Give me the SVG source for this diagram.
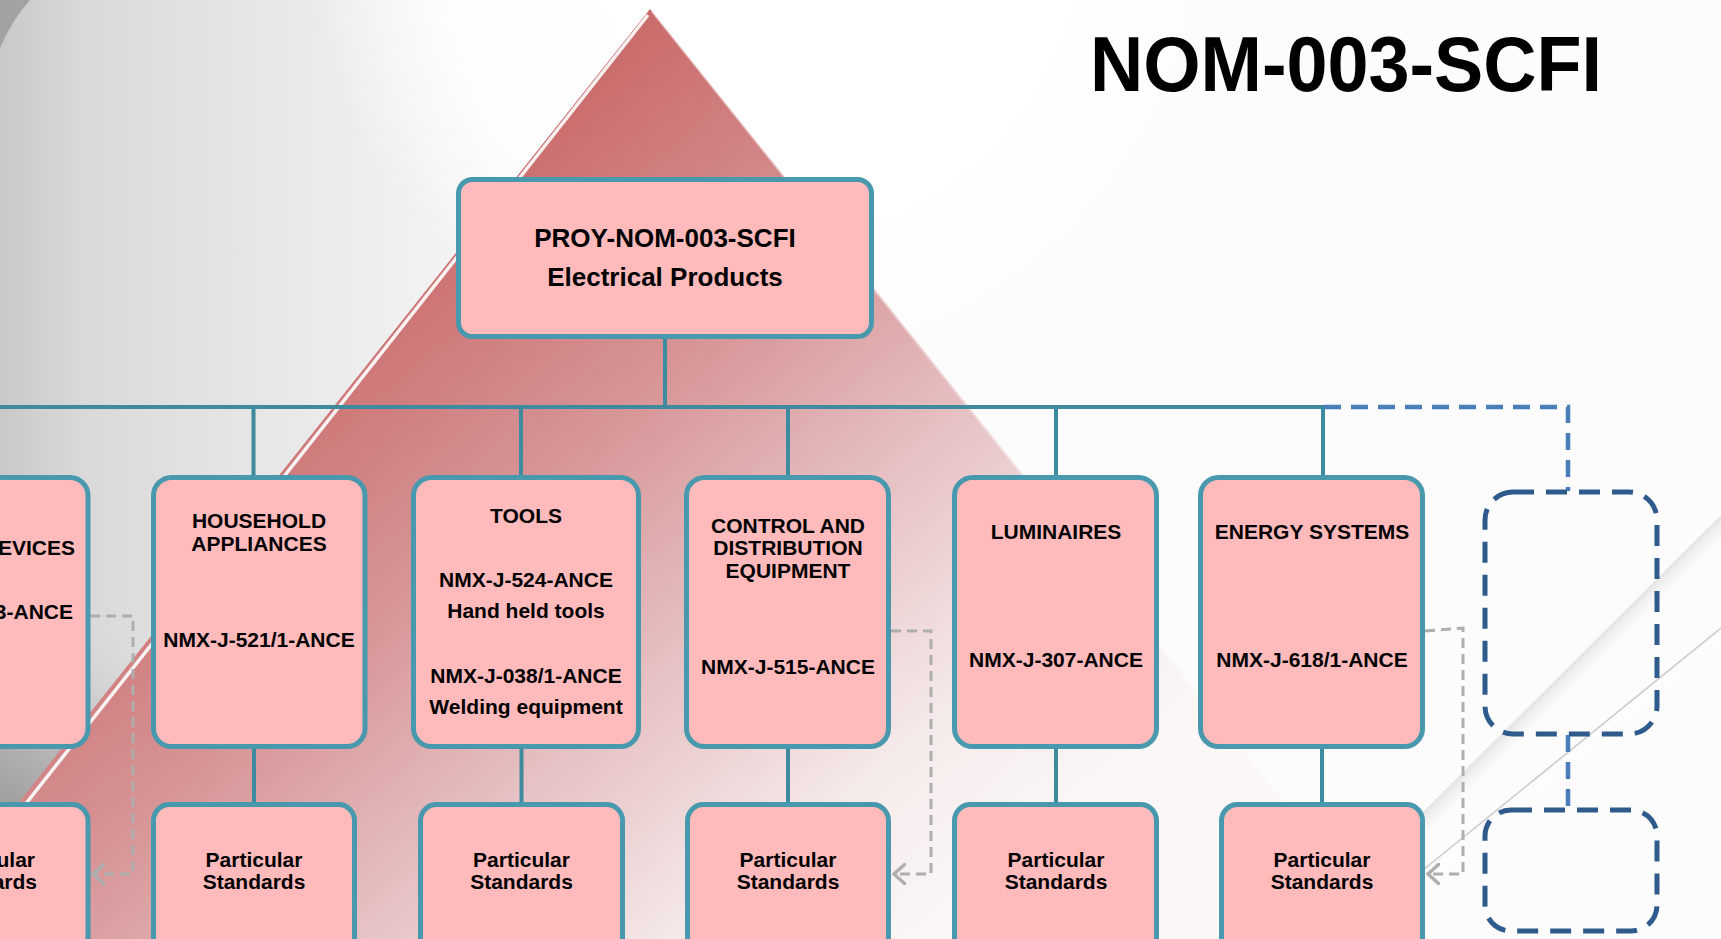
<svg xmlns="http://www.w3.org/2000/svg" width="1721" height="939" viewBox="0 0 1721 939">
<defs>
<linearGradient id="bgGrad" gradientUnits="userSpaceOnUse" x1="0" y1="0" x2="700" y2="0">
<stop offset="0" stop-color="#c9c9c9"/>
<stop offset="0.12" stop-color="#d9d9d9"/>
<stop offset="0.4" stop-color="#e8e8e8"/>
<stop offset="0.7" stop-color="#f5f5f5"/>
<stop offset="1" stop-color="#fcfcfc"/>
</linearGradient>
<radialGradient id="topGlow" gradientUnits="userSpaceOnUse" cx="760" cy="-80" r="460">
<stop offset="0" stop-color="#ffffff" stop-opacity="1"/>
<stop offset="0.7" stop-color="#ffffff" stop-opacity="0.85"/>
<stop offset="1" stop-color="#ffffff" stop-opacity="0"/>
</radialGradient>
<linearGradient id="blShade" gradientUnits="userSpaceOnUse" x1="0" y1="820" x2="120" y2="640">
<stop offset="0" stop-color="#9a9a9a"/>
<stop offset="0.5" stop-color="#bdbdbd"/>
<stop offset="1" stop-color="#d4d4d4" stop-opacity="0"/>
</linearGradient>
<linearGradient id="triGrad" gradientUnits="userSpaceOnUse" x1="500" y1="100" x2="1100" y2="800">
<stop offset="0" stop-color="#C96666"/>
<stop offset="0.33" stop-color="#D69395"/>
<stop offset="0.58" stop-color="#E6C0C2"/>
<stop offset="0.82" stop-color="#F5EAEA"/>
<stop offset="1" stop-color="#FBF7F7"/>
</linearGradient>
<linearGradient id="streak" gradientUnits="userSpaceOnUse" x1="1545" y1="645" x2="1585" y2="685">
<stop offset="0" stop-color="#ffffff" stop-opacity="0"/>
<stop offset="0.5" stop-color="#d2d2d2" stop-opacity="0.8"/>
<stop offset="1" stop-color="#ffffff" stop-opacity="0"/>
</linearGradient>
<marker id="chev" viewBox="0 0 14 22" refX="12" refY="11" markerWidth="14" markerHeight="22" markerUnits="userSpaceOnUse" orient="auto">
<path d="M1.5,1.5 L12,11 L1.5,20.5" fill="none" stroke="#AEAEAE" stroke-width="3.5" stroke-linecap="round"/>
</marker>
<style>
.box{fill:#FFBBBB;stroke:#4898AE;stroke-width:5}
.t{font-family:"Liberation Sans",Arial,Helvetica,sans-serif;font-weight:bold;font-size:21px;fill:#000;text-anchor:middle}
.te{text-anchor:end}
.big{font-size:26px}
.conn{stroke:#3E8A9E;stroke-width:4;fill:none}
.gdash{stroke:#AEAEAE;stroke-width:3;stroke-dasharray:10 6;fill:none}
.bline{stroke:#4A7EBB;stroke-width:4.5;stroke-dasharray:17 10;fill:none}
.bbox{fill:none;stroke:#2F5A8C;stroke-width:5;stroke-dasharray:21 12}
</style>
</defs>
<g id="background">
<rect x="0" y="0" width="1721" height="939" fill="url(#bgGrad)"/>
<rect x="250" y="0" width="1000" height="420" fill="url(#topGlow)"/>
<path d="M0,0 L30,0 Q12,20 0,48 Z" fill="#a2a2a2"/>
<polygon points="0,560 190,600 0,840" fill="url(#blShade)"/>
<polygon points="650,9 1395,939 -90,939" fill="url(#triGrad)"/>
<line x1="648" y1="15" x2="-84" y2="943" stroke="#ffffff" stroke-width="3.5" opacity="0.9"/>
<line x1="652" y1="12" x2="1385" y2="930" stroke="#ffffff" stroke-width="1.5" opacity="0.4"/>
<polygon points="1721,515 1721,575 1445,830 1405,830" fill="url(#streak)"/>
<line x1="1721" y1="628" x2="1380" y2="905" stroke="#c4c4c4" stroke-width="1.5" opacity="0.9"/>
<line x1="1721" y1="634" x2="1385" y2="910" stroke="#ffffff" stroke-width="2" opacity="0.9"/>
</g>
<g id="title">
<text x="1090" y="91" font-family="Liberation Sans, Arial, sans-serif" font-weight="bold" font-size="78" textLength="512" lengthAdjust="spacingAndGlyphs" fill="#000">NOM-003-SCFI</text>
</g>
<g id="connectors">
<path class="conn" d="M665,339 V407"/>
<path class="conn" d="M0,407 H1324"/>
<path class="conn" d="M253.5,407 V475 M521,407 V475 M788,407 V475 M1056,407 V475 M1323,407 V475"/>
<path class="conn" d="M254,749 V802 M521.5,749 V802 M788,749 V802 M1056,749 V802 M1322,749 V802"/>
<path class="bline" d="M1324,407 H1568 V491"/>
<path class="bline" d="M1568,735 V808"/>
<path class="gdash" d="M90,616 H133 V874 H93" marker-end="url(#chev)"/>
<path class="gdash" d="M891,631 H931 V874 H894" marker-end="url(#chev)"/>
<path class="gdash" d="M1425,631 L1463,628 V874 H1428" marker-end="url(#chev)"/>
</g>
<g id="node-root">
<rect class="box" x="458.5" y="179.5" width="413" height="157" rx="14"/>
<text class="t big" x="665" y="247">PROY-NOM-003-SCFI</text>
<text class="t big" x="665" y="286">Electrical Products</text>
</g>
<g id="node-devices">
<rect class="box" x="-130" y="477.5" width="218" height="269" rx="18"/>
<text class="t te" x="75" y="555">EVICES</text>
<text class="t te" x="73" y="619">3-ANCE</text>
</g>
<g id="node-household">
<rect class="box" x="153.5" y="477.5" width="211.5" height="269" rx="18"/>
<text class="t" x="259" y="528">HOUSEHOLD</text>
<text class="t" x="259" y="551">APPLIANCES</text>
<text class="t" x="259" y="647">NMX-J-521/1-ANCE</text>
</g>
<g id="node-tools">
<rect class="box" x="413.5" y="477.5" width="225" height="269" rx="18"/>
<text class="t" x="526" y="523">TOOLS</text>
<text class="t" x="526" y="587">NMX-J-524-ANCE</text>
<text class="t" x="526" y="618">Hand held tools</text>
<text class="t" x="526" y="683">NMX-J-038/1-ANCE</text>
<text class="t" x="526" y="714">Welding equipment</text>
</g>
<g id="node-control">
<rect class="box" x="686.5" y="477.5" width="202" height="269" rx="18"/>
<text class="t" x="788" y="533">CONTROL AND</text>
<text class="t" x="788" y="555">DISTRIBUTION</text>
<text class="t" x="788" y="578">EQUIPMENT</text>
<text class="t" x="788" y="674">NMX-J-515-ANCE</text>
</g>
<g id="node-luminaires">
<rect class="box" x="954.5" y="477.5" width="202" height="269" rx="18"/>
<text class="t" x="1056" y="539">LUMINAIRES</text>
<text class="t" x="1056" y="667">NMX-J-307-ANCE</text>
</g>
<g id="node-energy">
<rect class="box" x="1200.5" y="477.5" width="222" height="269" rx="18"/>
<text class="t" x="1312" y="539">ENERGY SYSTEMS</text>
<text class="t" x="1312" y="667">NMX-J-618/1-ANCE</text>
</g>
<g id="node-empty-1">
<rect class="bbox" x="1485" y="492" width="172" height="242" rx="28"/>
</g>
<g id="node-ps-devices">
<rect class="box" x="-120" y="804.5" width="208" height="170" rx="16"/>
<text class="t te" x="35" y="867">ular</text>
<text class="t te" x="37" y="889">ards</text>
</g>
<g id="node-ps-household">
<rect class="box" x="153.5" y="804.5" width="201" height="170" rx="16"/>
<text class="t" x="254" y="867">Particular</text>
<text class="t" x="254" y="889">Standards</text>
</g>
<g id="node-ps-tools">
<rect class="box" x="420.5" y="804.5" width="202" height="170" rx="16"/>
<text class="t" x="521.5" y="867">Particular</text>
<text class="t" x="521.5" y="889">Standards</text>
</g>
<g id="node-ps-control">
<rect class="box" x="687.5" y="804.5" width="201" height="170" rx="16"/>
<text class="t" x="788" y="867">Particular</text>
<text class="t" x="788" y="889">Standards</text>
</g>
<g id="node-ps-luminaires">
<rect class="box" x="954.5" y="804.5" width="202" height="170" rx="16"/>
<text class="t" x="1056" y="867">Particular</text>
<text class="t" x="1056" y="889">Standards</text>
</g>
<g id="node-ps-energy">
<rect class="box" x="1221.5" y="804.5" width="201" height="170" rx="16"/>
<text class="t" x="1322" y="867">Particular</text>
<text class="t" x="1322" y="889">Standards</text>
</g>
<g id="node-empty-2">
<rect class="bbox" x="1485" y="810" width="172" height="121" rx="26"/>
</g>
</svg>
